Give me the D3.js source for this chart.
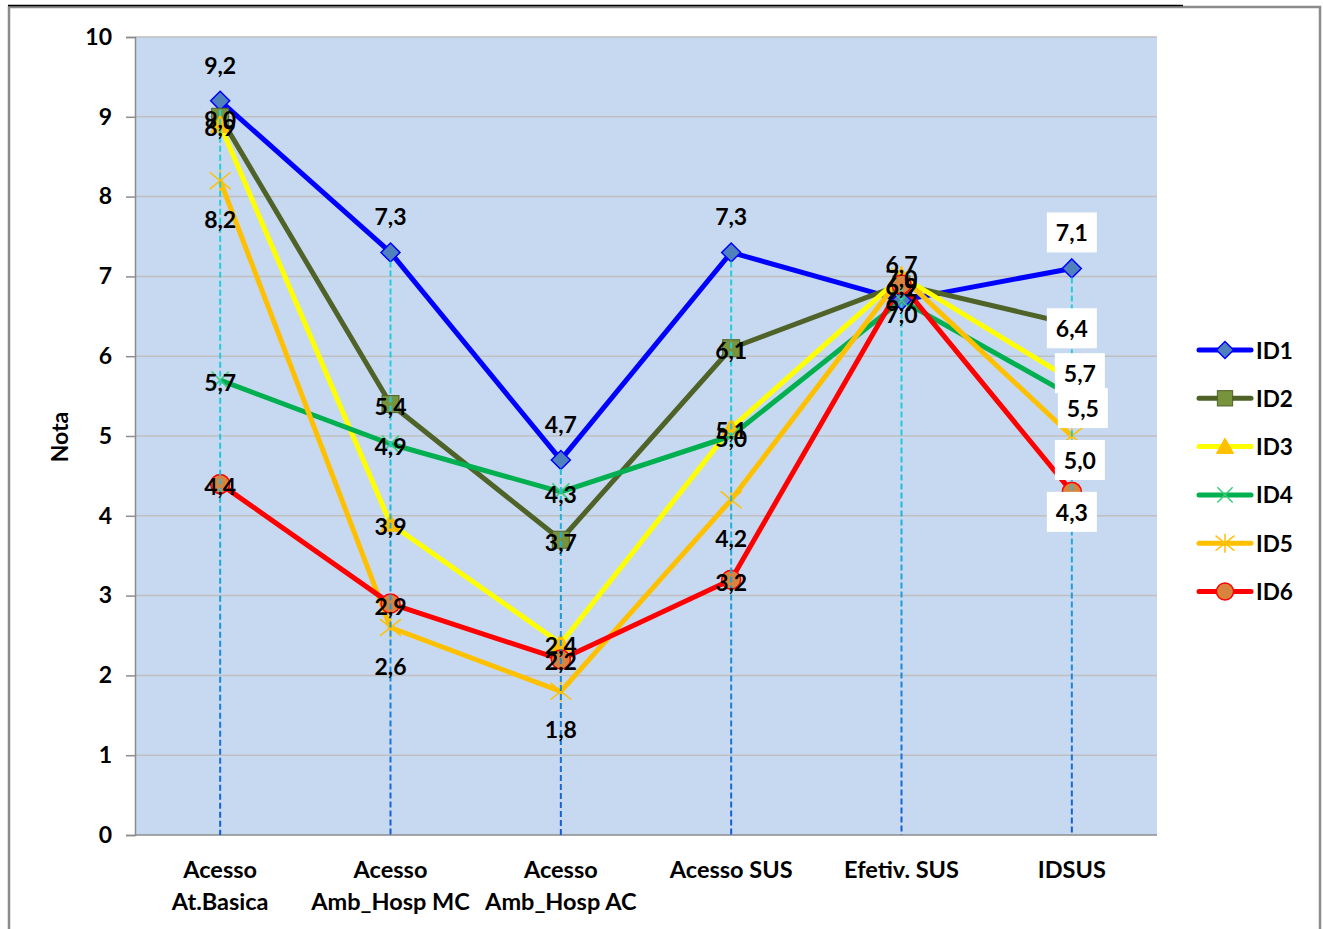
<!DOCTYPE html>
<html>
<head>
<meta charset="utf-8">
<script src="https://cdn.jsdelivr.net/npm/d3@7"></script>
<style>
  html, body { margin: 0; padding: 0; background: #ffffff; }
  svg { display: block; }
  text { font-family: Lato, "Open Sans", sans-serif; font-weight: bold; fill: #000; }
</style>
</head>
<body>
<svg id="chart" width="1323" height="929"></svg>
<script>
// Categories (two-line labels) and series values
const categories = ["Acesso At.Basica", "Acesso Amb_Hosp MC", "Acesso Amb_Hosp AC", "Acesso SUS", "Efetiv. SUS", "IDSUS"];
const categoryLines = [["Acesso", "At.Basica"], ["Acesso", "Amb_Hosp MC"], ["Acesso", "Amb_Hosp AC"], ["Acesso SUS"], ["Efetiv. SUS"], ["IDSUS"]];
const seriesNames = ["ID1", "ID2", "ID3", "ID4", "ID5", "ID6"];
const id1 = [9.2, 7.3, 4.7, 7.3, 6.7, 7.1];
const id2 = [9.0, 5.4, 3.7, 6.1, 6.9, 6.4];
const id3 = [8.9, 3.9, 2.4, 5.1, 7.0, 5.7];
const id4 = [5.7, 4.9, 4.3, 5.0, 6.7, 5.5];
const id5 = [8.2, 2.6, 1.8, 4.2, 7.0, 5.0];
const id6 = [4.4, 2.9, 2.2, 3.2, 6.9, 4.3];
const yTicks = [0, 1, 2, 3, 4, 5, 6, 7, 8, 9, 10];
const yTitle = "Nota";

const seriesValues = [id1, id2, id3, id4, id5, id6];

// Styling per series
const styles = [
  { line: "#0000FF", marker: "diamond",  fill: "#4F81BD", stroke: "#0000FF", labelDy: -36 },
  { line: "#4F6228", marker: "square",   fill: "#77933C", stroke: "#4F6228", labelDy: 2 },
  { line: "#FFFF00", marker: "triangle", fill: "#FFC000", stroke: "#FFC000", labelDy: 2 },
  { line: "#00B050", marker: "x",        fill: "none",    stroke: "#3CCB78", labelDy: 2 },
  { line: "#FFC000", marker: "star",     fill: "none",    stroke: "#FFC000", labelDy: 38 },
  { line: "#FF0000", marker: "circle",   fill: "#D9843E", stroke: "#FF0000", labelDy: 2 }
];
// Label nudges for the last category, where labels sit in white boxes
const lastLabelShift = [
  { dx: 0, dy: -36 }, { dx: 0, dy: 4 }, { dx: 8, dy: -7 },
  { dx: 11, dy: 12 }, { dx: 8, dy: 24 }, { dx: 0, dy: 20 }
];

const svg = d3.select("#chart");
const plot = { left: 135, right: 1157, top: 37, bottom: 835 };

const x = d3.scaleBand().domain(categories).range([plot.left, plot.right]);
const y = d3.scaleLinear().domain([0, 10]).range([plot.bottom, plot.top]);
const cx = c => x(c) + x.bandwidth() / 2;

// Outer frame
svg.append("rect").attr("x", 9).attr("y", 7).attr("width", 1311).attr("height", 940)
  .attr("fill", "none").attr("stroke", "#8C8C8C").attr("stroke-width", 2.5);
svg.append("line").attr("x1", 8).attr("x2", 1183).attr("y1", 5.5).attr("y2", 5.5)
  .attr("stroke", "#000").attr("stroke-width", 1.5);

// Plot area background
svg.append("rect").attr("x", plot.left).attr("y", plot.top)
  .attr("width", plot.right - plot.left).attr("height", plot.bottom - plot.top)
  .attr("fill", "#C6D9F1");

// Horizontal gridlines
svg.append("g").selectAll("line").data(yTicks.filter(t => t > 0)).join("line")
  .attr("x1", plot.left).attr("x2", plot.right)
  .attr("y1", d => y(d)).attr("y2", d => y(d))
  .attr("stroke", "#BFBFBF").attr("stroke-width", 1.5);

// Y axis
const yAxis = d3.axisLeft(y).tickValues(yTicks).tickSize(9).tickPadding(14).tickFormat(d3.format("d"));
const yG = svg.append("g").attr("transform", `translate(${plot.left},0)`).call(yAxis);
yG.select(".domain").attr("stroke", "#8C8C8C").attr("stroke-width", 1.5);
yG.selectAll(".tick line").attr("stroke", "#8C8C8C").attr("stroke-width", 1.5);
yG.selectAll(".tick text").style("font-size", "23px").style("font-family", "Lato, sans-serif").style("font-weight", "bold").attr("fill", "#000");

// X axis baseline
svg.append("line").attr("x1", plot.left).attr("x2", plot.right)
  .attr("y1", plot.bottom).attr("y2", plot.bottom)
  .attr("stroke", "#8C8C8C").attr("stroke-width", 1.5);

// Category labels
const xl = svg.append("g");
categories.forEach((c, i) => {
  const t = xl.append("text").attr("x", cx(c)).attr("y", 878).attr("text-anchor", "middle").style("font-size", "23.5px");
  categoryLines[i].forEach((ln, j) => {
    t.append("tspan").attr("x", cx(c)).attr("dy", j === 0 ? 0 : 32).text(ln);
  });
});

// Y title
svg.append("text").attr("transform", "translate(68,437) rotate(-90)")
  .attr("text-anchor", "middle").style("font-size", "23px").text(yTitle);

// Series lines
const lineGen = d3.line().x((d, i) => cx(categories[i])).y(d => y(d));
seriesValues.forEach((vals, s) => {
  svg.append("path").datum(vals).attr("d", lineGen)
    .attr("fill", "none").attr("stroke", styles[s].line).attr("stroke-width", 5)
    .attr("stroke-linejoin", "round");
});

// Marker drawing
function drawMarker(g, type, px, py, st, scale = 1) {
  const k = scale;
  if (type === "diamond") {
    const r = 9.5 * k;
    g.append("path").attr("d", `M${px},${py - r}L${px + r},${py}L${px},${py + r}L${px - r},${py}Z`)
      .attr("fill", st.fill).attr("stroke", st.stroke).attr("stroke-width", 1.5);
  } else if (type === "square") {
    const r = 8.5 * k;
    g.append("rect").attr("x", px - r).attr("y", py - r).attr("width", 2 * r).attr("height", 2 * r)
      .attr("fill", st.fill).attr("stroke", st.stroke).attr("stroke-width", 1);
  } else if (type === "triangle") {
    const r = 9.5 * k;
    g.append("path").attr("d", `M${px},${py - r}L${px + r},${py + r * 0.8}L${px - r},${py + r * 0.8}Z`)
      .attr("fill", st.fill).attr("stroke", st.stroke).attr("stroke-width", 1);
  } else if (type === "x") {
    const r = 8.5 * k;
    g.append("path").attr("d", `M${px - r},${py - r}L${px + r},${py + r}M${px - r},${py + r}L${px + r},${py - r}`)
      .attr("stroke", st.stroke).attr("stroke-width", 1.5).attr("fill", "none");
  } else if (type === "star") {
    const r = 10.5 * k;
    g.append("path").attr("d", `M${px - r},${py - r * 0.8}L${px + r},${py + r * 0.8}M${px - r},${py + r * 0.8}L${px + r},${py - r * 0.8}M${px},${py - r}L${px},${py + r}`)
      .attr("stroke", st.stroke).attr("stroke-width", 1.5).attr("fill", "none");
  } else if (type === "circle") {
    g.append("circle").attr("cx", px).attr("cy", py).attr("r", 9.5 * k)
      .attr("fill", st.fill).attr("stroke", st.stroke).attr("stroke-width", 1.5);
  }
}

const markers = svg.append("g");
seriesValues.forEach((vals, s) => {
  vals.forEach((v, i) => drawMarker(markers, styles[s].marker, cx(categories[i]), y(v), styles[s]));
});

// Drop lines from the highest point of each category to the axis
const defs = svg.append("defs");
const grad = defs.append("linearGradient").attr("id", "dropGrad")
  .attr("gradientUnits", "userSpaceOnUse").attr("x1", 0).attr("x2", 0)
  .attr("y1", plot.top).attr("y2", plot.bottom);
grad.append("stop").attr("offset", 0).attr("stop-color", "#22D6D2");
grad.append("stop").attr("offset", 0.5).attr("stop-color", "#24C8DE");
grad.append("stop").attr("offset", 1).attr("stop-color", "#155BD4");

svg.append("g").selectAll("line").data(categories).join("line")
  .attr("x1", d => cx(d)).attr("x2", d => cx(d))
  .attr("y1", (d, i) => y(d3.max(seriesValues, vals => vals[i])) + 9)
  .attr("y2", plot.bottom)
  .attr("stroke", "url(#dropGrad)").attr("stroke-width", 2)
  .attr("stroke-dasharray", "6,3");

// Data labels
const fmt = v => d3.format(".1f")(v).replace(".", ",");
const labels = svg.append("g");
const last = categories.length - 1;
seriesValues.forEach((vals, s) => {
  vals.forEach((v, i) => {
    if (i === last) return;
    labels.append("text")
      .attr("x", cx(categories[i])).attr("y", y(v) + styles[s].labelDy)
      .attr("text-anchor", "middle").attr("dominant-baseline", "central")
      .style("font-size", "23px").text(fmt(v));
  });
});
// Boxed labels on the last category
seriesValues.forEach((vals, s) => {
  const v = vals[last];
  const px = cx(categories[last]) + lastLabelShift[s].dx;
  const py = y(v) + lastLabelShift[s].dy;
  labels.append("rect").attr("x", px - 25).attr("y", py - 20).attr("width", 50).attr("height", 40).attr("fill", "#fff");
});
seriesValues.forEach((vals, s) => {
  const v = vals[last];
  const px = cx(categories[last]) + lastLabelShift[s].dx;
  const py = y(v) + lastLabelShift[s].dy;
  labels.append("text").attr("x", px).attr("y", py)
    .attr("text-anchor", "middle").attr("dominant-baseline", "central")
    .style("font-size", "23px").text(fmt(v));
});

// Legend
const legend = svg.append("g");
seriesNames.forEach((name, s) => {
  const ly = 350 + s * 48.3;
  legend.append("line").attr("x1", 1199).attr("x2", 1251).attr("y1", ly).attr("y2", ly)
    .attr("stroke", styles[s].line).attr("stroke-width", 5).attr("stroke-linecap", "round");
  drawMarker(legend, styles[s].marker, 1225, ly, styles[s], 0.9);
  legend.append("text").attr("x", 1256).attr("y", ly).attr("dominant-baseline", "central")
    .style("font-size", "22.5px").text(name);
});
</script>
</body>
</html>
